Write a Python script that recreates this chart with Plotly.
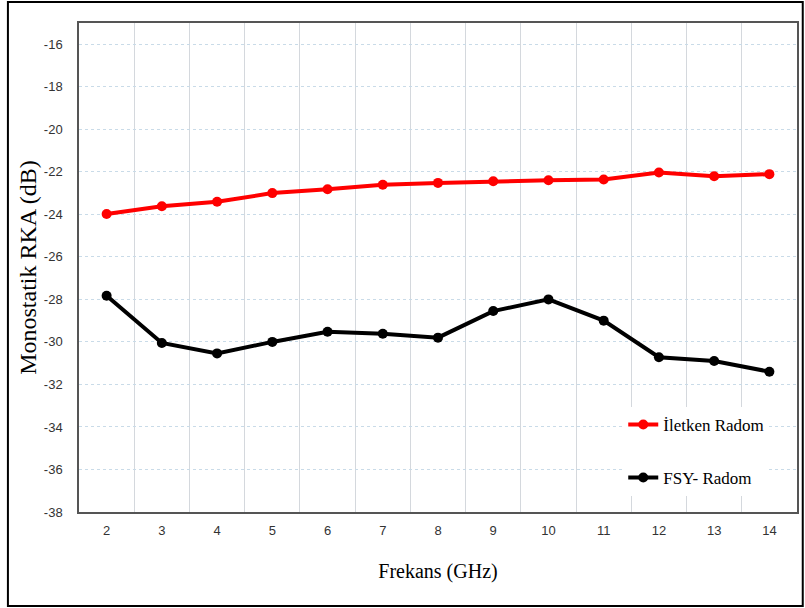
import plotly.graph_objects as go

freq = [2, 3, 4, 5, 6, 7, 8, 9, 10, 11, 12, 13, 14]
iletken = [-23.98, -23.62, -23.41, -23.0, -22.82, -22.61, -22.52, -22.44, -22.4, -22.36, -22.03, -22.21, -22.11]
fsy = [-27.83, -30.05, -30.54, -30.0, -29.52, -29.62, -29.8, -28.55, -28.0, -29.0, -30.72, -30.9, -31.4]
y_ticks = list(range(-38, -15, 2))

fig = go.Figure()
fig.add_trace(go.Scatter(x=freq, y=iletken, mode="lines+markers", name="İletken Radom",
                         legendgroup="a",
                         line=dict(color="#ff0000", width=4), marker=dict(size=10, color="#ff0000")))
fig.add_trace(go.Scatter(x=freq, y=fsy, mode="lines+markers", name="FSY- Radom",
                         legendgroup="b",
                         line=dict(color="#000000", width=4), marker=dict(size=10, color="#000000")))

fig.update_layout(
    width=805, height=608,
    margin=dict(l=79, r=8, t=23, b=96),
    paper_bgcolor="white", plot_bgcolor="white",
    showlegend=True,
    legend=dict(x=0.758, y=0.215, xanchor="left", yanchor="top",
                font=dict(family="Liberation Serif", size=17, color="black"),
                bgcolor="rgba(255,255,255,1)", tracegroupgap=28, itemwidth=30),
    xaxis=dict(range=[1.5, 14.5], tickvals=freq, ticktext=[str(v) for v in freq],
               showgrid=False, zeroline=False, automargin=False,
               showline=True, linecolor="#555555", linewidth=1.5, mirror=True,
               ticks="", tickfont=dict(family="Liberation Sans", size=13, color="#333333"),
               ticklabelstandoff=6,
               minor=dict(tick0=1.5, dtick=1, showgrid=True, gridcolor="#d4d8dd", gridwidth=1.2, ticks=""),
               title=dict(text="Frekans (GHz)", font=dict(family="Liberation Serif", size=20, color="black"),
                          standoff=27)),
    yaxis=dict(range=[-38, -15], tickvals=y_ticks, ticktext=[str(v) for v in y_ticks],
               showgrid=True, gridcolor="#c9dbe8", griddash="dot", gridwidth=1.2, zeroline=False,
               automargin=False,
               showline=True, linecolor="#555555", linewidth=1.5, mirror=True,
               ticks="", tickfont=dict(family="Liberation Sans", size=13, color="#333333"),
               ticklabelstandoff=12,
               title=dict(text="Monostatik RKA (dB)", font=dict(family="Liberation Serif", size=24, color="black"),
                          standoff=0)),
    shapes=[dict(type="rect", xref="paper", yref="paper",
                 x0=-0.099, x1=1.008, y0=-0.192, y1=1.043,
                 line=dict(color="black", width=2), fillcolor="rgba(0,0,0,0)", layer="above")],
)

fig.write_html("out.html", config={"displayModeBar": False},
               post_script="document.body.style.margin='0';document.body.style.overflow='hidden';")
